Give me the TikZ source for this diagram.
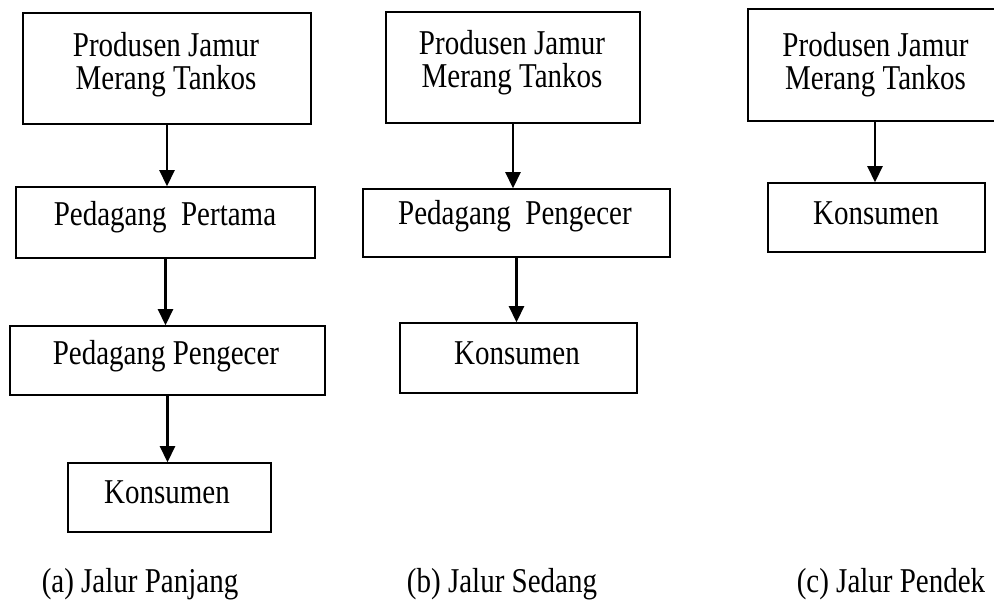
\documentclass[tikz,border=0pt]{standalone}
\usepackage{fontspec}
\setmainfont{Liberation Serif}
\usetikzlibrary{arrows.meta}
\newcommand{\vstr}[1]{\scalebox{1}[1.2]{#1}}
\begin{document}
\begin{tikzpicture}[x=1pt,y=-1pt,
  box/.style={draw,line width=1.5pt,rectangle,inner sep=0pt},
  txt/.style={anchor=base,inner sep=0pt,font=\fontsize{29}{34}\selectfont},
  arr/.style={line width=2.2pt,-{Triangle[width=15pt,length=16pt]}}]
\useasboundingbox (0,0) rectangle (994,601);
% column (a)
\node[box,minimum width=288pt,minimum height=111pt] (A1) at (167,68.5) {};
\node[box,minimum width=299pt,minimum height=71pt] (A2) at (165.5,222.5) {};
\node[box,minimum width=315pt,minimum height=69pt] (A3) at (167.5,360.5) {};
\node[box,minimum width=203pt,minimum height=69pt] (A4) at (169.5,497.5) {};
\node[txt] (A1a) at (166,56.5) {\vstr{Produsen Jamur}};
\node[txt] (A1b) at (166,89.75) {\vstr{Merang Tankos}};
\node[txt] (A2t) at (165,225.75) {\vstr{Pedagang\ \ Pertama}};
\node[txt] (A3t) at (166,364.75) {\vstr{Pedagang Pengecer}};
\node[txt] (A4t) at (167,503.5) {\vstr{Konsumen}};
\draw[arr] (A1.south) -- (A1.south |- A2.north);
\draw[arr] (A2.south) -- (A2.south |- A3.north);
\draw[arr] (A3.south) -- (A3.south |- A4.north);
% column (b)
\node[box,minimum width=254pt,minimum height=111pt] (B1) at (513,67.5) {};
\node[box,minimum width=307pt,minimum height=68pt] (B2) at (516.5,223) {};
\node[box,minimum width=237pt,minimum height=70pt] (B3) at (518.5,358) {};
\node[txt] (B1a) at (512,54.5) {\vstr{Produsen Jamur}};
\node[txt] (B1b) at (512,87.75) {\vstr{Merang Tankos}};
\node[txt] (B2t) at (515,224.75) {\vstr{Pedagang\ \ Pengecer}};
\node[txt] (B3t) at (517,364.5) {\vstr{Konsumen}};
\draw[arr] (B1.south) -- (B1.south |- B2.north);
\draw[arr] (B2.south) -- (B2.south |- B3.north);
% column (c)
\node[box,minimum width=254pt,minimum height=112pt] (C1) at (875,65) {};
\node[box,minimum width=217pt,minimum height=69pt] (C2) at (876.5,217.5) {};
\node[txt] (C1a) at (875.5,56.5) {\vstr{Produsen Jamur}};
\node[txt] (C1b) at (875.5,89.75) {\vstr{Merang Tankos}};
\node[txt] (C2t) at (876,224.5) {\vstr{Konsumen}};
\draw[arr] (C1.south) -- (C1.south |- C2.north);
% captions
\node[txt] (La) at (140,592) {\vstr{(a) Jalur Panjang}};
\node[txt] (Lb) at (502,592) {\vstr{(b) Jalur Sedang}};
\node[txt] (Lc) at (891,592) {\vstr{(c) Jalur Pendek}};
\end{tikzpicture}
\end{document}
